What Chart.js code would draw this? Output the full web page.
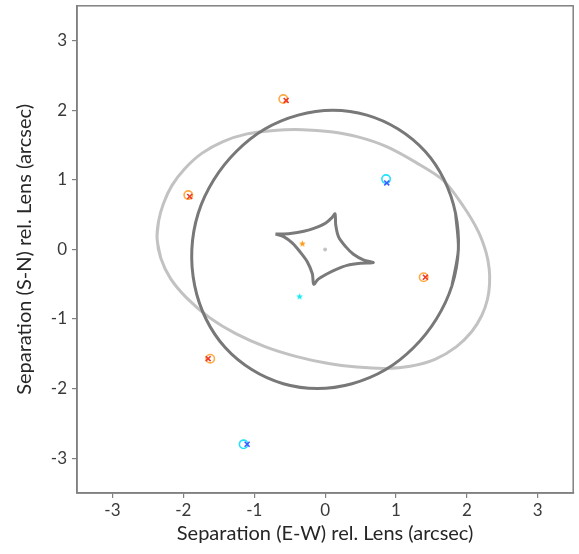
<!DOCTYPE html>
<html>
<head>
<meta charset="utf-8">
<script src="https://cdn.jsdelivr.net/npm/chart.js@4/dist/chart.umd.min.js"></script>
<style>
  html, body { margin: 0; padding: 0; background: #fff; }
  canvas { display: block; }
</style>
</head>
<body>
<canvas id="lens-chart" width="579" height="554"></canvas>
<script>
// Lens model plot: critical curve, caustics, observed (o) and model (x) images.
// All coordinates in arcsec relative to the lens, read off the reference picture.

const xTicks = [-3, -2, -1, 0, 1, 2, 3];
const yTicks = [-3, -2, -1, 0, 1, 2, 3];

// observed image positions (open circles) and model positions (crosses)
const obsOrange = [[-0.59, 2.16], [-1.93, 0.78], [1.39, -0.40], [-1.62, -1.57]];
const modelRed = [[-0.55, 2.14], [-1.91, 0.76], [1.415, -0.40], [-1.65, -1.57]];
const obsCyan = [[0.86, 1.01], [-1.15, -2.80]];
const modelBlue = [[0.87, 0.955], [-1.10, -2.80]];

// source positions (stars) and the lens centre
const sourceOrange = [[-0.32, 0.08]];
const sourceCyan = [[-0.36, -0.68]];
const lensCentre = [[0, 0]];

// tangential critical curve (dark grey loop)
const criticalCurve = [
  [1.88, 0.00], [1.84, 0.52], [1.68, 1.00], [1.41, 1.41], [1.03, 1.73], [0.59, 1.93],
  [0.11, 2.00], [-0.38, 1.93], [-0.85, 1.73], [-1.25, 1.41], [-1.57, 1.00], [-1.79, 0.52],
  [-1.88, 0.00], [-1.84, -0.52], [-1.68, -1.00], [-1.41, -1.41], [-1.03, -1.73], [-0.59, -1.93],
  [-0.11, -2.00], [0.38, -1.93], [0.85, -1.73], [1.25, -1.41], [1.57, -1.00], [1.79, -0.52],
  [1.88, 0.00]
];

// radial caustic (light grey loop)
const outerCaustic = [
  [-2.37, 0.15], [-2.35, 0.40], [-2.28, 0.66], [-2.16, 0.92], [-1.98, 1.16], [-1.74, 1.38],
  [-1.44, 1.55], [-1.10, 1.66], [-0.72, 1.71], [-0.32, 1.72], [0.08, 1.69], [0.45, 1.62],
  [0.86, 1.48], [1.28, 1.25], [1.67, 0.99], [1.95, 0.62], [2.16, 0.26], [2.27, -0.04],
  [2.315, -0.28], [2.32, -0.50], [2.29, -0.72], [2.21, -0.95], [2.07, -1.18], [1.85, -1.40],
  [1.55, -1.58], [1.20, -1.68], [0.85, -1.71], [0.45, -1.69], [0.05, -1.64], [-0.40, -1.54],
  [-0.84, -1.40], [-1.26, -1.21], [-1.63, -0.98], [-1.95, -0.70], [-2.18, -0.42], [-2.32, -0.12],
  [-2.37, 0.15]
];

// tangential caustic (astroid)
const innerCaustic = [
  [-0.70, 0.22], [-0.49, 0.23], [-0.30, 0.26], [-0.14, 0.31], [0.01, 0.38], [0.10, 0.46], [0.14, 0.51],
  [0.15, 0.35], [0.19, 0.18], [0.29, 0.04], [0.40, -0.07], [0.54, -0.15], [0.68, -0.19],
  [0.50, -0.20], [0.31, -0.23], [0.15, -0.29], [0.01, -0.36], [-0.10, -0.43], [-0.16, -0.50],
  [-0.18, -0.35], [-0.25, -0.18], [-0.35, -0.04], [-0.46, 0.09], [-0.58, 0.18], [-0.70, 0.22]
];

const pts = arr => arr.map(([x, y]) => ({ x, y }));

// a closed loop drawn with tension: repeat one neighbour at each end so the
// seam where the loop closes gets a smooth tangent
const loop = arr => pts([arr[arr.length - 2], ...arr, arr[1]]);

function starStyle(color, r) {
  const c = document.createElement("canvas");
  const s = Math.ceil(r * 2 + 2);
  c.width = s; c.height = s;
  const g = c.getContext("2d");
  g.fillStyle = color;
  g.beginPath();
  for (let i = 0; i < 10; i++) {
    const a = -Math.PI / 2 + i * Math.PI / 5;
    const rr = i % 2 ? r * 0.45 : r;
    g.lineTo(s / 2 + rr * Math.cos(a), s / 2 + rr * Math.sin(a));
  }
  g.closePath();
  g.fill();
  return c;
}

const framePlugin = {
  id: "frame",
  afterDraw(chart) {
    const { ctx, chartArea: a } = chart;
    ctx.save();
    ctx.strokeStyle = "#808080";
    ctx.lineWidth = 1.5;
    ctx.strokeRect(a.left, a.top, a.right - a.left, a.bottom - a.top);
    ctx.restore();
  }
};

function curve(data, color) {
  return {
    data, showLine: true, borderColor: color, borderWidth: 3,
    pointRadius: 0, tension: 0.3, fill: false
  };
}

function init() {
  const canvas = document.getElementById("lens-chart");
  if (typeof Chart !== "function") {
    console.error("[lens_chart] Chart.js failed to load");
    return;
  }

  const tickFont = { family: "Lato", size: 17 };
  const titleFont = { family: "Lato", size: 20 };

  new Chart(canvas.getContext("2d"), {
    type: "scatter",
    data: {
      datasets: [
        { data: pts(modelRed), pointStyle: "crossRot", pointRadius: 3.5, borderColor: "#ee3a2a", borderWidth: 1.6 },
        { data: pts(modelBlue), pointStyle: "crossRot", pointRadius: 3.5, borderColor: "#3f5cff", borderWidth: 1.6 },
        { data: pts(obsOrange), pointStyle: "circle", pointRadius: 4.2, borderColor: "#ffaa44", backgroundColor: "rgba(0,0,0,0)", borderWidth: 1.6 },
        { data: pts(obsCyan), pointStyle: "circle", pointRadius: 4.2, borderColor: "#22e0ff", backgroundColor: "rgba(0,0,0,0)", borderWidth: 1.6 },
        { data: pts(sourceOrange), pointStyle: starStyle("#ff9a1a", 3.5) },
        { data: pts(sourceCyan), pointStyle: starStyle("#18e8f0", 3.5) },
        { data: pts(lensCentre), pointStyle: "circle", pointRadius: 2, backgroundColor: "#c4c4c4", borderWidth: 0 },
        curve(pts(innerCaustic), "#7a7a7a"),
        curve(loop(criticalCurve), "#787878"),
        curve(loop(outerCaustic), "#c2c2c2")
      ]
    },
    options: {
      responsive: false,
      animation: false,
      layout: { padding: { top: 5, right: 3, left: 0, bottom: 0 } },
      plugins: { legend: { display: false }, tooltip: { enabled: false } },
      scales: {
        x: {
          type: "linear", min: -3.5, max: 3.5,
          afterBuildTicks: s => { s.ticks = xTicks.map(v => ({ value: v })); },
          afterFit: s => { s.height = 61; s.paddingLeft = 0; s.paddingRight = 0; },
          grid: { drawOnChartArea: false, drawTicks: true, tickLength: 5, color: "#808080", lineWidth: 1.2 },
          border: { display: true, color: "#808080", width: 1.5 },
          ticks: { font: tickFont, color: "#3a3a3a", padding: 2, maxRotation: 0 },
          title: { display: true, text: "Separation (E-W) rel. Lens (arcsec)", font: titleFont, color: "#262626", padding: { top: 4, bottom: 8 } }
        },
        y: {
          type: "linear", min: -3.5, max: 3.5,
          afterBuildTicks: s => { s.ticks = yTicks.map(v => ({ value: v })); },
          afterFit: s => { s.width = 77; s.paddingTop = 0; s.paddingBottom = 0; },
          grid: { drawOnChartArea: false, drawTicks: true, tickLength: 5, color: "#808080", lineWidth: 1.2 },
          border: { display: true, color: "#808080", width: 1.5 },
          ticks: { font: tickFont, color: "#3a3a3a", padding: 5 },
          title: { display: true, text: "Separation (S-N) rel. Lens (arcsec)", font: titleFont, color: "#262626", padding: { top: 13, bottom: 4 } }
        }
      }
    },
    plugins: [framePlugin]
  });
}

document.addEventListener("DOMContentLoaded", init);
</script>
</body>
</html>
